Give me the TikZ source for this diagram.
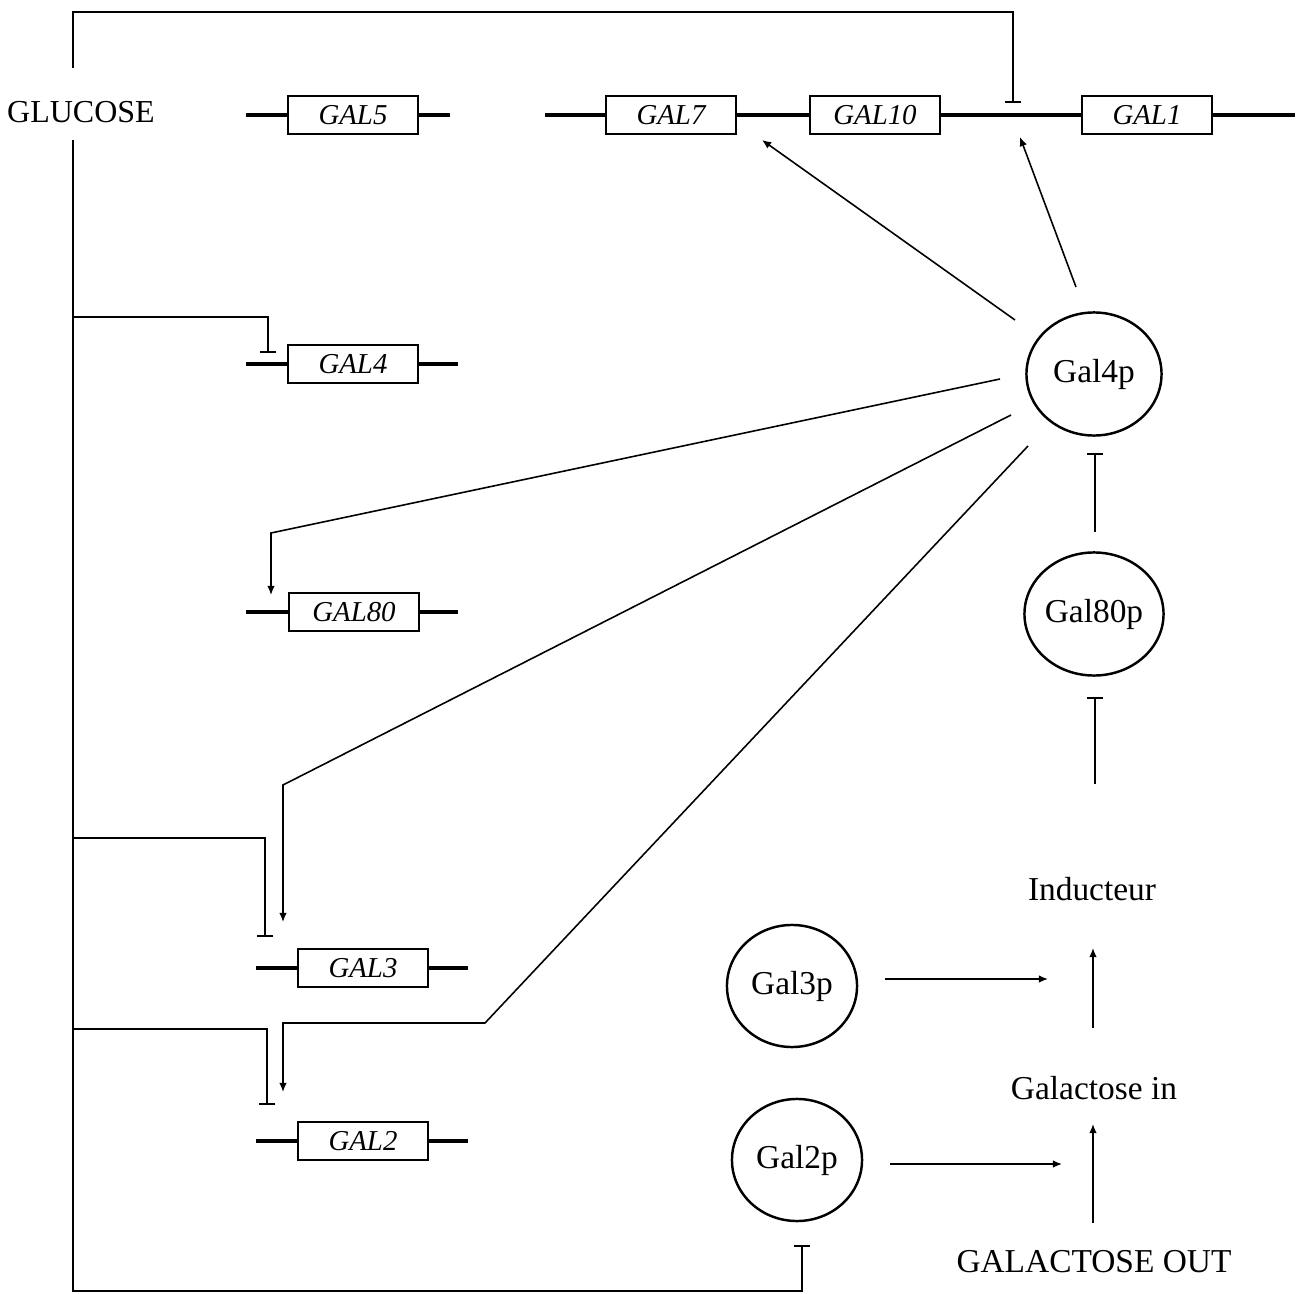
\documentclass[tikz,border=0pt]{standalone}
\usepackage{fontspec}
\setmainfont{Liberation Serif}
\usetikzlibrary{arrows.meta,shapes.geometric}
\begin{document}
\begin{tikzpicture}[x=0.01cm,y=-0.01cm,
  every node/.style={font=\fontsize{9.5}{11}\selectfont, inner sep=0pt},
  gene/.style={draw, line width=0.75pt, minimum width=1.3cm, minimum height=0.38cm,
    font=\fontsize{8.2}{10}\selectfont\itshape},
  dna/.style={line width=0.9pt},
  prot/.style={ellipse, draw, line width=0.7pt, minimum width=1.35cm, minimum height=1.23cm},
  link/.style={line width=0.45pt},
  act/.style={link, -{Latex[length=2.6pt,width=2.2pt]}},
  inh/.style={link, -{Bar[width=4.8pt,line width=0.55pt]}}]
\useasboundingbox (0,0) rectangle (1302,1294);

% gene boxes
\node[gene] (gal5)  at (353,115)  {GAL5};
\node[gene] (gal7)  at (671,115)  {GAL7};
\node[gene] (gal10) at (875,115)  {GAL10};
\node[gene] (gal1)  at (1147,115) {GAL1};
\node[gene] (gal4)  at (353,364)  {GAL4};
\node[gene] (gal80) at (354,612)  {GAL80};
\node[gene] (gal3)  at (363,968)  {GAL3};
\node[gene] (gal2)  at (363,1141) {GAL2};

% flanking DNA
\coordinate (g5l) at (246,115);  \coordinate (g5r) at (450,115);
\coordinate (g7l) at (545,115);  \coordinate (g1r) at (1295,115);
\coordinate (g4l) at (246,364);  \coordinate (g4r) at (458,364);
\coordinate (g80l) at (246,612); \coordinate (g80r) at (458,612);
\coordinate (g3l) at (256,968);  \coordinate (g3r) at (468,968);
\coordinate (g2l) at (256,1141); \coordinate (g2r) at (468,1141);
\draw[dna] (g5l) -- (gal5.west) (gal5.east) -- (g5r);
\draw[dna] (g7l) -- (gal7.west) (gal7.east) -- (gal10.west)
  (gal10.east) -- (gal1.west) (gal1.east) -- (g1r);
\draw[dna] (g4l) -- (gal4.west) (gal4.east) -- (g4r);
\draw[dna] (g80l) -- (gal80.west) (gal80.east) -- (g80r);
\draw[dna] (g3l) -- (gal3.west) (gal3.east) -- (g3r);
\draw[dna] (g2l) -- (gal2.west) (gal2.east) -- (g2r);

% proteins and metabolites
\node[prot] (gal4p)  at (1094,374)  {Gal4p};
\node[prot] (gal80p) at (1094,614)  {Gal80p};
\node[prot, minimum width=1.3cm, minimum height=1.22cm] (gal3p) at (792,986)  {Gal3p};
\node[prot, minimum width=1.3cm, minimum height=1.22cm] (gal2p) at (797,1160) {Gal2p};
\node[font=\fontsize{9.1}{11}\selectfont] (glucose) at (81,112) {GLUCOSE};
\node (induc)   at (1092,889) {Inducteur};
\node (galin)   at (1094,1088) {Galactose in};
\node (galout)  at (1094,1262) {GALACTOSE OUT};

% glucose repression
\coordinate (gtop) at (73,68);
\coordinate (gbot) at (73,140);
\coordinate (gcorner) at (73,12);
\coordinate (g1rep) at (1013,103);
\draw[inh] (gtop) -- (gcorner) -| (g1rep);
\coordinate (gend) at (73,1291);
\coordinate (g2prep) at (802,1245);
\draw[inh] (gbot) -- (gend) -| (g2prep);
\coordinate (j4) at (73,317);   \coordinate (r4) at (268,353);
\coordinate (j3) at (73,838);   \coordinate (r3) at (265,937);
\coordinate (j2) at (73,1029);  \coordinate (r2) at (267,1105);
\draw[inh] (j4) -| (r4);
\draw[inh] (j3) -| (r3);
\draw[inh] (j2) -| (r2);

% activation by Gal4p
\coordinate (s7) at (1015,320);  \coordinate (t7) at (762,140);
\coordinate (s1) at (1076,287);  \coordinate (t1) at (1020,137);
\draw[act] (s7) -- (t7);
\draw[act] (s1) -- (t1);
\coordinate (s80) at (1000,379); \coordinate (k80) at (271,533); \coordinate (t80) at (271,595);
\draw[act] (s80) -- (k80) -- (t80);
\coordinate (s3) at (1011,415);  \coordinate (k3) at (283,785);  \coordinate (t3) at (283,922);
\draw[act] (s3) -- (k3) -- (t3);
\coordinate (s2) at (1028,446);  \coordinate (k2) at (485,1023);
\coordinate (k2b) at (283,1023); \coordinate (t2) at (283,1092);
\draw[act] (s2) -- (k2) -- (k2b) -- (t2);

% regulatory cascade on the right
\coordinate (a1) at (1095,532); \coordinate (a2) at (1095,453);
\draw[inh] (a1) -- (a2);
\coordinate (b1) at (1095,784); \coordinate (b2) at (1095,697);
\draw[inh] (b1) -- (b2);
\coordinate (c1) at (1093,1028); \coordinate (c2) at (1093,948);
\draw[act] (c1) -- (c2);
\coordinate (d1) at (1093,1223); \coordinate (d2) at (1093,1124);
\draw[act] (d1) -- (d2);
\coordinate (e1) at (885,979);  \coordinate (e2) at (1048,979);
\draw[act] (e1) -- (e2);
\coordinate (f1) at (890,1164); \coordinate (f2) at (1062,1164);
\draw[act] (f1) -- (f2);
\end{tikzpicture}
\end{document}
